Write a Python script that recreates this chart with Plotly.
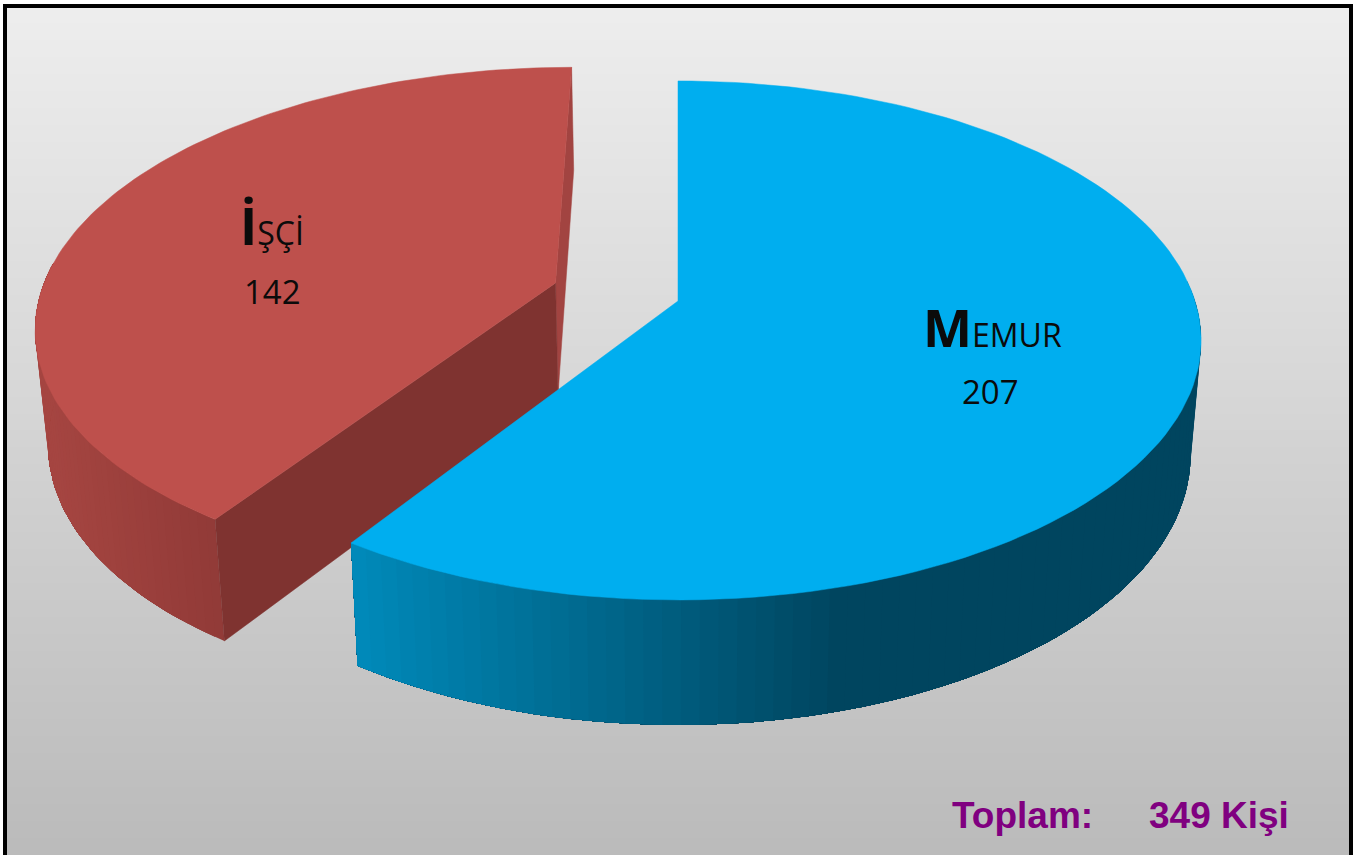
import numpy as np
import plotly.graph_objects as go

# ---- data ----
categories = ["Memur", "İşçi"]
values = [207, 142]
explode = [0.0, 0.25]
total_label = "Toplam:"
total_value = "349 Kişi"

# ---- view model (perspective pie on a 1368x855 canvas) ----
W, H = 1368, 855
CX, CY = 678.0, 301.0
A, B, K = 517.0, 253.5, 0.152
SIDE_SCALE = 0.98
D0, D1 = 103.0, 0.0413
N = 120


def project(u, v):
    den = 1 + K * v
    return CX + A * u / den, CY - B * v / den


def lower(x, y):
    return CX + (x - CX) * SIDE_SCALE, y + D0 + (y - 67.0) * D1


def mix(c0, c1, t):
    t = min(1.0, max(0.0, t))
    return "rgb(%d,%d,%d)" % tuple(round(a + (b - a) * t) for a, b in zip(c0, c1))


fig = go.Figure()


def poly(xs, ys, color, seam=0.0):
    fig.add_trace(go.Scatter(
        x=list(xs) + [xs[0]], y=list(ys) + [ys[0]], mode="lines", fill="toself",
        fillcolor=color, line=dict(color=color, width=seam), hoverinfo="skip",
        showlegend=False))


angles = np.cumsum([0] + values) / sum(values) * 2 * np.pi
slices = []
for i in range(len(values)):
    t0, t1 = angles[i], angles[i + 1]
    mid = (t0 + t1) / 2
    ou, ov = explode[i] * np.sin(mid), explode[i] * np.cos(mid)
    th = np.linspace(t0, t1, N + 1)
    px, py = project(ou + np.sin(th), ov + np.cos(th))
    ax, ay = project(ou, ov)
    slices.append(dict(th=th, px=px, py=py, ax=ax, ay=ay))


def walls(s, lx, ly, left, right, x0, span):
    # painted in order, each piece running on to the end of the visible wall, so no seams show
    vis = [j for j in range(N + 1) if np.cos(s["th"][j]) <= 0.1]
    a, b = vis[0], vis[-1]
    for j in range(a, b):
        c = mix(left, right, (s["px"][j] - x0) / span)
        top_x, top_y = s["px"][j:b + 1], s["py"][j:b + 1]
        poly(list(top_x) + list(lx[j:b + 1][::-1]), list(top_y) + list(ly[j:b + 1][::-1]), c, 0)


# --- İşçi (drawn first, it sits behind) ---
s = slices[1]
lx, ly = lower(s["px"], s["py"])
bax, bay = lower(s["ax"], s["ay"])
# far cut face
poly([s["ax"], s["px"][-1], lx[-1], bax], [s["ay"], s["py"][-1], ly[-1], bay], "#A24441", 0.5)
# outer wall
walls(s, lx, ly, (165, 69, 65), (145, 58, 55), 50, 176)
# near cut face
poly([s["ax"], s["px"][0], lx[0], bax], [s["ay"], s["py"][0], ly[0], bay], "#7F3330", 0.5)
# top
poly([s["ax"]] + list(s["px"]), [s["ay"]] + list(s["py"]), "#BE504C", 0.5)

# --- Memur ---
s = slices[0]
lx, ly = lower(s["px"], s["py"])
walls(s, lx, ly, (0, 138, 186), (0, 69, 95), 358, 492)
poly([s["ax"]] + list(s["px"]), [s["ay"]] + list(s["py"]), "#00AEEF", 0.5)

# --- background gradient and frame ---
shapes = []
bands = 50
edges = np.round(np.linspace(6, H, bands + 1))
for i in range(bands):
    shapes.append(dict(type="rect", layer="below", x0=5, x1=1351, y0=edges[i], y1=edges[i + 1] + 1,
                       fillcolor=mix((237, 237, 237), (187, 187, 187), i / (bands - 1)),
                       line=dict(width=0)))
shapes.append(dict(type="rect", layer="above", x0=5, y0=6, x1=1351, y1=H + 20,
                   line=dict(color="#000000", width=4), fillcolor="rgba(0,0,0,0)"))


def big_small(word):
    w = word.replace("i", "İ").upper()
    return ("<b><span style=\"font-size:52px\">%s</span></b>"
            "<span style=\"font-size:32px\">%s</span>" % (w[0], w[1:]))


label_font = dict(family="Open Sans", color="#0b0b0b", size=33)
annotations = [
    dict(x=992, y=364, text=big_small(categories[0]), yanchor="bottom"),
    dict(x=990, y=391, text=str(values[0]), yanchor="middle"),
    dict(x=272, y=262, text=big_small(categories[1]), yanchor="bottom"),
    dict(x=272, y=291, text=str(values[1]), yanchor="middle"),
]
for a in annotations:
    a.update(xref="x", yref="y", showarrow=False, xanchor="center", font=label_font)
total_font = dict(family="Liberation Sans", color="#800080", size=37)
annotations.append(dict(x=950, y=815, xref="x", yref="y", text="<b>%s</b>" % total_label,
                        showarrow=False, xanchor="left", yanchor="middle", font=total_font))
annotations.append(dict(x=1147, y=815, xref="x", yref="y", text="<b>%s</b>" % total_value,
                        showarrow=False, xanchor="left", yanchor="middle", font=total_font))

fig.update_layout(
    width=W, height=H, margin=dict(l=0, r=0, t=0, b=0), autosize=False,
    paper_bgcolor="#ffffff", plot_bgcolor="#ffffff", showlegend=False,
    xaxis=dict(range=[0, W], visible=False, fixedrange=True),
    yaxis=dict(range=[H, 0], visible=False, fixedrange=True),
    shapes=shapes, annotations=annotations)

fig.write_html("out.html", config=dict(displayModeBar=False, responsive=False),
               post_script="document.body.style.margin='0';document.body.style.overflow='hidden';")
